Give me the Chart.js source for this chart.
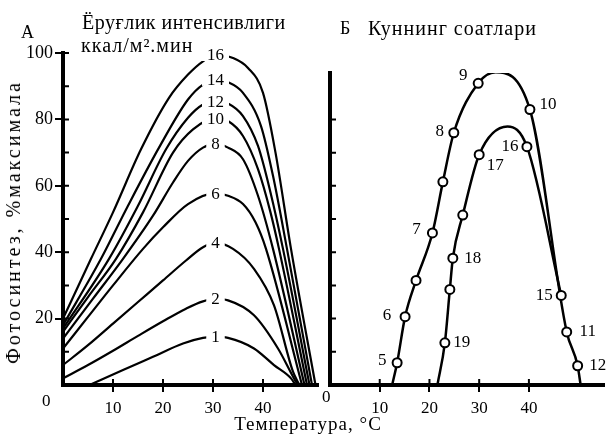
<!DOCTYPE html>
<html>
<head>
<meta charset="utf-8">
<script src="https://cdn.jsdelivr.net/npm/chart.js@4.4.1/dist/chart.umd.min.js"></script>
<style>
  body { margin: 0; background: #fff; }
  #wrap { position: relative; width: 610px; height: 436px; overflow: hidden;
          font-family: 'Liberation Serif', 'Times New Roman', serif; color: #000; }
  canvas { position: absolute; top: 0; }
  .txt { position: absolute; white-space: nowrap; line-height: 1; }
</style>
</head>
<body>
<div id="wrap">
  <canvas id="chartA" width="325" height="436" style="left:0"></canvas>
  <canvas id="chartB" width="290" height="436" style="left:320px"></canvas>
  <div class="txt" style="left:21px;top:23px;font-size:18px">А</div>
  <div class="txt" style="left:82px;top:12px;font-size:20px;letter-spacing:0.5px">Ёруғлик интенсивлиги</div>
  <div class="txt" style="left:81px;top:35px;font-size:20px;letter-spacing:1px">ккал/м².мин</div>
  <div class="txt" style="left:340px;top:19px;font-size:18px">Б</div>
  <div class="txt" style="left:368px;top:18px;font-size:20px;letter-spacing:1px">Куннинг соатлари</div>
  <div class="txt" style="left:42px;top:392px;font-size:17px">0</div>
  <div class="txt" style="left:322px;top:388px;font-size:17px">0</div>
  <div class="txt" style="left:308px;top:423px;font-size:19px;letter-spacing:1px;transform:translate(-50%,-50%)">Температура, °С</div>
  <div class="txt" style="left:13px;top:222px;font-size:20px;letter-spacing:3px;transform:translate(-50%,-50%) rotate(-90deg)">Фотосинтез, %максимала</div>
</div>
<script>
// A: photosynthesis vs temperature at several light intensities [temp, % of max]
const curve1  = [[5.3,0],[12,4.5],[18,8.5],[24,12.5],[28,14.2],[30.5,14.5],[33,14.2],[38.2,11],[42.2,6],[45.6,2],[46.5,0]];
const curve2  = [[0,2],[5,6],[10,10.3],[15,14.8],[20,19.2],[24.6,23],[28,25.2],[30.5,25.9],[33,25.5],[38.2,21],[43,11],[46.2,2],[47,0]];
const curve4  = [[0,6],[5,12],[10,18.5],[15,25],[20,31.5],[24.6,37.5],[28,41.5],[30.5,42.8],[34,41],[38.2,35],[42.2,24],[46,4],[47.3,0]];
const curve6  = [[0,11],[5,20.5],[10,30],[16,41],[20,47.5],[25,54.5],[30.5,57.8],[33,57],[36,54.5],[38.5,49],[40.6,41],[47.8,0]];
const curve8  = [[0,14],[6,26],[12,38],[18,51],[22,61],[25,67.5],[28,71.5],[30.5,72.6],[33,71.5],[36,68],[39,57],[42,41],[48.3,0]];
const curve10 = [[0,16],[5,26.5],[10.6,38],[16,52],[22,70],[26,77],[30.5,80.4],[33,79.5],[36,75],[39,65],[41.5,52],[43.2,41],[48.8,0]];
const curve12 = [[0,17],[9.2,38],[15,54],[20.6,71],[25,80.5],[28,84.5],[30.5,85.5],[33,84.8],[36,81],[39,72],[41.5,58],[44,41],[49.3,0]];
const curve14 = [[0,18],[7.6,38],[13,54],[19.2,71.5],[25,86],[28,90.5],[30.5,91.9],[33,91.2],[36,88],[39.6,78],[42,63],[44.8,41],[49.8,0]];
const curve16 = [[0,20],[5.6,38],[10,52],[15.6,71],[21.2,86.5],[25,93.5],[28,97.5],[30.5,99.4],[34,98.5],[37,95.5],[40,88],[42.5,70],[45.6,41],[50.5,0]];
const lightCurves = [curve1, curve2, curve4, curve6, curve8, curve10, curve12, curve14, curve16];
const lightLabels = ['1', '2', '4', '6', '8', '10', '12', '14', '16'];

// B: hours of the day, two branches
const outerTemp  = [12.5, 13.5, 15.1, 17.3, 20.6, 22.7, 24.9, 29.8, 33.3, 40.2, 47.6, 49.8, 50.4];
const outerPhoto = [0, 6.7, 20.6, 31.5, 45.8, 61.2, 76, 90.9, 94.2, 83, 16, 5.8, 0];
const outerHours = [null, '5', '6', '', '7', '', '8', '9', null, '10', '11', '12', null];
const innerTemp  = [21.6, 23.1, 24.1, 24.7, 26.7, 30, 35.7, 39.6, 46.5];
const innerPhoto = [0, 12.7, 28.8, 38.2, 51.2, 69.4, 77.9, 71.8, 27];
const innerHours = [null, '19', '', '18', '', '17', null, '16', '15'];

const xTicks = [10, 20, 30, 40, 50];
const yTicksA = [20, 40, 60, 80, 100];

// label placement next to the hour markers (px)
const hourOffsets = {
    '5': [-15, -2], '6': [-18, -1], '7': [-16, -3], '8': [-14, -1], '9': [-15, -8], '10': [18, -5],
    '11': [21, 0], '12': [20, 0], '15': [-17, 0], '16': [-17, 0], '17': [16, 11], '18': [20, 0], '19': [17, 0]
};

const FONT = "'Liberation Serif', 'Times New Roman', serif";

function keepTens(scale) {
    scale.ticks = scale.ticks.filter(t => Math.abs(t.value % 10) < 1e-6);
}

const innerTicks = {
    id: 'innerTicks',
    afterDraw(chart, args, opts) {
        const { ctx, chartArea, scales: { x, y } } = chart;
        ctx.save();
        ctx.strokeStyle = '#000';
        ctx.lineWidth = 2;
        ctx.beginPath();
        x.ticks.forEach(t => {
            if (t.value <= 0) return;
            const px = x.getPixelForValue(t.value);
            ctx.moveTo(px, chartArea.bottom);
            ctx.lineTo(px, chartArea.bottom - opts.len);
        });
        y.ticks.forEach(t => {
            if (t.value <= 0) return;
            const py = y.getPixelForValue(t.value);
            ctx.moveTo(chartArea.left, py);
            ctx.lineTo(chartArea.left + opts.len, py);
        });
        ctx.stroke();
        ctx.restore();
    }
};

const peakLabels = {
    id: 'peakLabels',
    afterDatasetsDraw(chart) {
        const { ctx } = chart;
        ctx.save();
        ctx.font = '17px ' + FONT;
        ctx.textAlign = 'center';
        ctx.textBaseline = 'middle';
        chart.data.datasets.forEach((ds, i) => {
            const meta = chart.getDatasetMeta(i);
            let top = 0;
            ds.data.forEach((p, j) => { if (p.y > ds.data[top].y) top = j; });
            const el = meta.data[top];
            const w = ctx.measureText(ds.label).width + 10;
            ctx.fillStyle = '#fff';
            ctx.fillRect(el.x - w / 2, el.y - 6, w, 12);
            ctx.fillStyle = '#000';
            ctx.fillText(ds.label, el.x, el.y + 1);
        });
        ctx.restore();
    }
};

const hourLabels = {
    id: 'hourLabels',
    afterDatasetsDraw(chart) {
        const { ctx } = chart;
        ctx.save();
        ctx.font = '17px ' + FONT;
        ctx.textAlign = 'center';
        ctx.textBaseline = 'middle';
        ctx.fillStyle = '#000';
        chart.data.datasets.forEach((ds, i) => {
            const meta = chart.getDatasetMeta(i);
            ds.hours.forEach((h, j) => {
                if (!h) return;
                const off = hourOffsets[h];
                const el = meta.data[j];
                ctx.fillText(h, el.x + off[0], el.y + off[1]);
            });
        });
        ctx.restore();
    }
};

const tickColor = c => (c.tick && c.tick.value > 0 ? '#000' : 'rgba(0,0,0,0)');

new Chart(document.getElementById('chartA'), {
    type: 'line',
    data: {
        datasets: lightCurves.map((pts, i) => ({
            label: lightLabels[i],
            data: pts.map(([x, y]) => ({ x, y })),
            borderColor: '#000',
            borderWidth: 2.2,
            pointRadius: 0,
            cubicInterpolationMode: 'monotone',
            fill: false
        }))
    },
    options: {
        responsive: false,
        animation: false,
        layout: { padding: { top: 53, right: 7, left: 0, bottom: 0 } },
        plugins: { legend: { display: false }, tooltip: { enabled: false }, innerTicks: { len: 6 } },
        scales: {
            x: {
                type: 'linear', min: 0, max: 51,
                afterBuildTicks: keepTens,
                afterFit: s => { s.height = 51; },
                border: { color: '#000', width: 4 },
                grid: { drawOnChartArea: false, color: tickColor, lineWidth: 2, tickLength: 7 },
                ticks: { stepSize: 10, padding: 6, color: '#000', font: { family: FONT, size: 17 },
                         callback: v => (xTicks.includes(v) ? v : '') }
            },
            y: {
                min: 0, max: 100,
                afterBuildTicks: keepTens,
                afterFit: s => { s.width = 63; },
                border: { color: '#000', width: 4 },
                grid: { drawOnChartArea: false, lineWidth: 2, tickLength: 8,
                        color: c => (c.tick && yTicksA.includes(c.tick.value) ? '#000' : 'rgba(0,0,0,0)') },
                ticks: { stepSize: 10, padding: 2, color: '#000', font: { family: FONT, size: 18 },
                         callback: v => (yTicksA.includes(v) ? v : '') }
            }
        }
    },
    plugins: [innerTicks, peakLabels]
});

function branch(temp, photo, hours) {
    return {
        data: temp.map((t, i) => ({ x: t, y: photo[i] })),
        hours: hours,
        borderColor: '#000',
        borderWidth: 2.5,
        pointRadius: c => (hours[c.dataIndex] === null ? 0 : 4.5),
        pointBackgroundColor: '#fff',
        pointBorderColor: '#000',
        pointBorderWidth: 2,
        cubicInterpolationMode: 'monotone',
        fill: false
    };
}

new Chart(document.getElementById('chartB'), {
    type: 'line',
    data: {
        datasets: [
            branch(innerTemp, innerPhoto, innerHours),
            branch(outerTemp, outerPhoto, outerHours)
        ]
    },
    options: {
        responsive: false,
        animation: false,
        layout: { padding: { top: 73, right: 0, left: 0, bottom: 0 } },
        plugins: { legend: { display: false }, tooltip: { enabled: false }, innerTicks: { len: 6 } },
        scales: {
            x: {
                type: 'linear', min: 0, max: 55,
                afterBuildTicks: keepTens,
                afterFit: s => { s.height = 51; },
                border: { color: '#000', width: 4 },
                grid: { drawOnChartArea: false, color: tickColor, lineWidth: 2, tickLength: 7 },
                ticks: { stepSize: 10, padding: 6, color: '#000', font: { family: FONT, size: 17 },
                         callback: v => (xTicks.includes(v) ? v : '') }
            },
            y: {
                min: 0, max: 94,
                afterBuildTicks: keepTens,
                afterFit: s => { s.width = 10; },
                border: { color: '#000', width: 4 },
                grid: { drawOnChartArea: false, drawTicks: false },
                ticks: { display: false, stepSize: 10 }
            }
        }
    },
    plugins: [innerTicks, hourLabels]
});
</script>
</body>
</html>
